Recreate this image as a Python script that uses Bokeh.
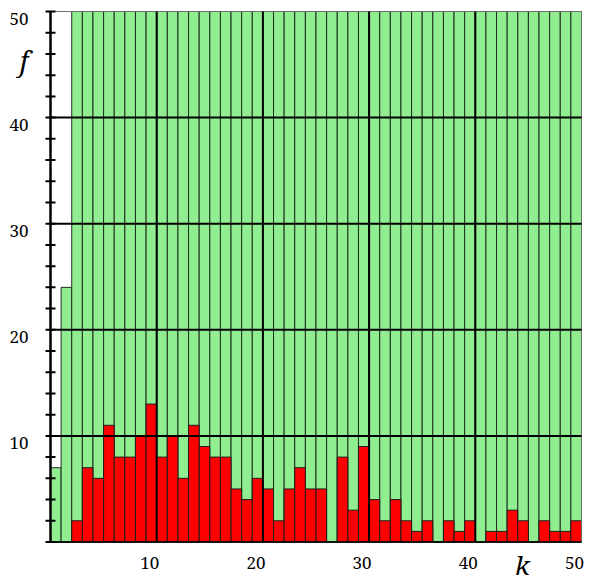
from bokeh.plotting import figure
from bokeh.models import Range1d, ColumnDataSource
from bokeh.core.properties import value
from bokeh.transform import dodge
from bokeh.embed import file_html
from bokeh.resources import INLINE

# Class index k and the two frequency series per class
k = list(range(1, 51))
f_total = [7, 24, 50, 50, 50, 50, 50, 50, 50, 50,
           50, 50, 50, 50, 50, 50, 50, 50, 50, 50,
           50, 50, 50, 50, 50, 50, 50, 50, 50, 50,
           50, 50, 50, 50, 50, 50, 50, 50, 50, 50,
           50, 50, 50, 50, 50, 50, 50, 50, 50, 50]
f_subset = [0, 0, 2, 7, 6, 11, 8, 8, 10, 13,
            8, 10, 6, 11, 9, 8, 8, 5, 4, 6,
            5, 2, 5, 7, 5, 5, 0, 8, 3, 9,
            4, 2, 4, 2, 1, 2, 0, 2, 1, 2,
            0, 1, 1, 3, 2, 0, 2, 1, 1, 2]

x_ticks = [10, 20, 30, 40, 50]
y_ticks = [10, 20, 30, 40, 50]
grid_vals = [10, 20, 30, 40]
y_minor = [v for v in range(2, 50, 2) if v % 10]
y_major = [0, 10, 20, 30, 40, 50]
x_lo, x_hi = 0, 50
y_lo, y_hi = 0, 50

SERIF = value("Noto Serif")

# The frame spans the whole canvas; the 0..50 box sits inside it with room
# on the left and below for the hand-built axes and their labels.
p = figure(width=589, height=583, output_backend="svg", toolbar_location=None,
           x_range=Range1d(-4.708, 50.753), y_range=Range1d(-3.911, 51.037),
           x_axis_location=None, y_axis_location=None,
           min_border=0)
p.grid.visible = False
p.outline_line_color = None
p.background_fill_color = "white"
p.border_fill_color = "white"

src = ColumnDataSource(dict(k=k, total=f_total, subset=f_subset))

# Bars occupy [k-1, k]
xpos = dodge("k", -0.5, range=p.x_range)
p.vbar(x=xpos, top="total", bottom=0, width=1.0, source=src,
       fill_color="#90EE90", line_color="#1e2e1e", line_width=1)
p.vbar(x=xpos, top="subset", bottom=0, width=1.0, source=src,
       fill_color="#FF0000", line_color="#1e1e1e", line_width=1)

# Box edges: thin grey top and right, black bottom
p.segment(x0=[x_lo, x_hi], y0=[y_hi, y_lo], x1=[x_hi, x_hi], y1=[y_hi, y_hi],
          line_color="#707070", line_width=1)
p.segment(x0=[x_lo], y0=[y_lo], x1=[x_hi], y1=[y_lo],
          line_color="black", line_width=1.5)

# Grid lines over the bars
p.segment(x0=[x_lo] * len(grid_vals), y0=grid_vals,
          x1=[x_hi] * len(grid_vals), y1=grid_vals,
          line_color="black", line_width=2)
p.segment(x0=grid_vals, y0=[y_lo] * len(grid_vals),
          x1=grid_vals, y1=[y_hi] * len(grid_vals),
          line_color="black", line_width=2)

# Left axis with ticks crossing it
p.segment(x0=[x_lo], y0=[y_lo], x1=[x_lo], y1=[y_hi],
          line_color="black", line_width=2.5)
p.scatter(x=[x_lo] * len(y_minor), y=y_minor, marker="dash", size=10,
          line_color="black", line_width=2)
p.scatter(x=[x_lo] * len(y_major), y=y_major, marker="dash", size=10,
          line_color="black", line_width=2)

# Tick labels
p.text(x=[x_lo] * len(y_ticks), y=y_ticks, text=[str(v) for v in y_ticks],
       x_offset=-22, y_offset=7, text_align="right", text_baseline="middle",
       text_font=SERIF, text_font_size="17px", text_color="black")
p.text(x=x_ticks, y=[y_lo] * len(x_ticks), text=[str(v) for v in x_ticks],
       x_offset=-7, y_offset=21, text_align="center", text_baseline="middle",
       text_font=SERIF, text_font_size="17px", text_color="black")

# Axis names
p.text(x=[x_lo], y=[y_hi], text=["f"], x_offset=-26.5, y_offset=49,
       text_align="center", text_baseline="middle",
       text_font=SERIF, text_font_style="italic",
       text_font_size="27px", text_color="black")
p.text(x=[x_hi], y=[y_lo], text=["k"], x_offset=-59, y_offset=22.5,
       text_align="center", text_baseline="middle",
       text_font=SERIF, text_font_style="italic",
       text_font_size="26px", text_color="black")

open("out.html", "w").write(file_html(p, INLINE))
